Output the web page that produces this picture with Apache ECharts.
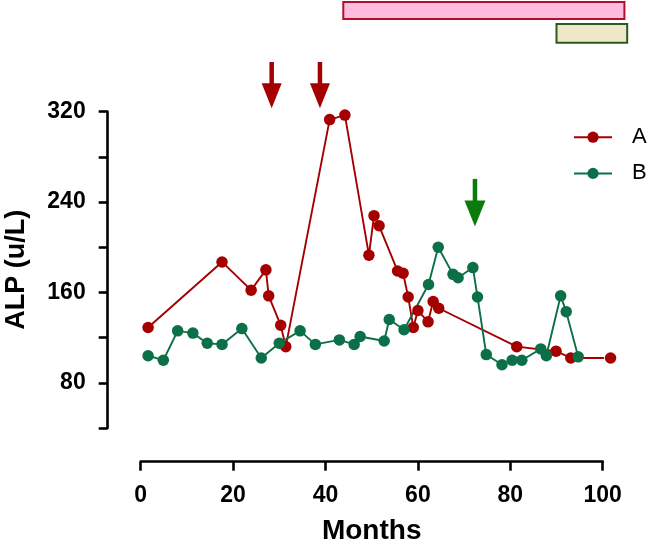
<!DOCTYPE html>
<html>
<head>
<meta charset="utf-8">
<script src="https://cdn.jsdelivr.net/npm/echarts@6/dist/echarts.min.js"></script>
<style>
html,body{margin:0;padding:0;background:#fff;}
#main{width:656px;height:543px;}
</style>
</head>
<body>
<div id="main"></div>
<script>
// ---- data ----
var seriesNames = ['A', 'B'];
var redX = [1.6, 17.6, 23.9, 27.1, 27.7, 30.3, 31.4, 40.9, 44.2, 49.4, 50.5, 51.6, 55.6, 56.8, 57.9, 59.0, 60.0, 62.2, 63.3, 64.5, 81.4, 89.9, 93.1, 101.7];
var redY = [129, 187, 162, 180, 157, 131, 112, 313, 317, 193, 228, 219, 179, 177, 156, 129, 144, 134, 152, 146, 112, 108, 102, 102];
var greenX = [1.6, 4.9, 8.0, 11.3, 14.4, 17.6, 21.9, 26.1, 30.0, 34.5, 37.8, 43.0, 46.2, 47.5, 52.7, 53.8, 57.0, 62.3, 64.4, 67.6, 68.7, 71.9, 72.9, 74.8, 78.2, 80.4, 82.5, 86.6, 87.8, 90.9, 92.1, 94.7];
var greenY = [104, 100, 126, 124, 115, 114, 128, 102, 115, 126, 114, 118, 114, 121, 117, 136, 127, 167, 200, 176, 173, 182, 156, 105, 96, 100, 100, 110, 104, 157, 143, 103];
var xTicks = [0, 20, 40, 60, 80, 100];
var yLabelTicks = [80, 160, 240, 320];
// annotation arrows: month, top value, tip value
var redArrowMonths = [28.35, 38.8];
var redArrowRange = [364, 323];
var greenArrowMonths = [72.35];
var greenArrowRange = [260.5, 218.3];
// treatment bars: [startMonth, endMonth, lowValue, highValue]
var pinkBar = [43.85, 104.7, 402, 417];
var beigeBar = [90.0, 105.3, 381, 397.6];

var RED = '#A50000', GREEN = '#0B7048';
var FONT = 'Liberation Sans, Arial, sans-serif';

function zip(xs, ys) { return xs.map(function (x, i) { return [x, ys[i]]; }); }

var chart = echarts.init(document.getElementById('main'), null, {renderer: 'canvas'});
var option = {
  animation: false,
  backgroundColor: '#fff',
  grid: {left: 140.7, right: 53.3, top: 111.7, bottom: 115, containLabel: false, outerBoundsMode: 'none'},
  legend: {
    orient: 'vertical', left: 573, top: 126.2, itemWidth: 38, itemHeight: 14, itemGap: 14.2, padding: 0,
    data: seriesNames,
    textStyle: {fontFamily: FONT, fontSize: 22, color: '#000', padding: [0, 0, 0, 15]}
  },
  xAxis: {
    type: 'value', min: 0, max: 100, interval: 20, offset: 33.7,
    name: 'Months', nameLocation: 'middle', nameGap: 56,
    nameTextStyle: {fontFamily: FONT, fontSize: 28, fontWeight: 'bold', color: '#000'},
    axisLine: {show: true, onZero: false, lineStyle: {color: '#000', width: 2.6}},
    axisTick: {show: true, length: 9, lineStyle: {color: '#000', width: 2.6}},
    axisLabel: {fontFamily: FONT, fontSize: 23, fontWeight: 'bold', color: '#000', margin: 22,
      formatter: function (v) { return xTicks.indexOf(v) >= 0 ? String(v) : ''; }},
    splitLine: {show: false}
  },
  yAxis: {
    type: 'value', min: 40, max: 320, interval: 40, offset: 33,
    name: 'ALP (u/L)', nameLocation: 'middle', nameGap: 78, nameRotate: 90,
    nameTextStyle: {fontFamily: FONT, fontSize: 27, fontWeight: 'bold', color: '#000'},
    axisLine: {show: true, onZero: false, lineStyle: {color: '#000', width: 2.6}},
    axisTick: {show: true, length: 9, lineStyle: {color: '#000', width: 2.6}},
    axisLabel: {fontFamily: FONT, fontSize: 23, fontWeight: 'bold', color: '#000', margin: 22,
      formatter: function (v) { return yLabelTicks.indexOf(v) >= 0 ? String(v) : ''; }},
    splitLine: {show: false}
  },
  series: [
    {name: seriesNames[0], type: 'line', data: zip(redX, redY), clip: false,
     symbol: 'circle', symbolSize: 11.5, color: RED,
     lineStyle: {color: RED, width: 1.9}, itemStyle: {color: RED}},
    {name: seriesNames[1], type: 'line', data: zip(greenX, greenY), clip: false,
     symbol: 'circle', symbolSize: 11.5, color: GREEN,
     lineStyle: {color: GREEN, width: 1.9}, itemStyle: {color: GREEN}}
  ]
};
chart.setOption(option);

function px(x, y) { return chart.convertToPixel({gridIndex: 0}, [x, y]); }
function arrow(month, range, color, headLen, headW, shaftW) {
  var top = px(month, range[0]), tip = px(month, range[1]);
  var cx = tip[0], hy = tip[1] - headLen;
  return [
    {type: 'rect', shape: {x: cx - shaftW / 2, y: top[1], width: shaftW, height: hy - top[1] + 1},
     style: {fill: color}, z: 10},
    {type: 'polygon', shape: {points: [[cx - headW / 2, hy], [cx + headW / 2, hy], [cx, tip[1]]]},
     style: {fill: color}, z: 10}
  ];
}
function bar(b, fill, stroke) {
  var p1 = px(b[0], b[3]), p2 = px(b[1], b[2]);
  return {type: 'rect', shape: {x: p1[0], y: p1[1], width: p2[0] - p1[0], height: p2[1] - p1[1]},
    style: {fill: fill, stroke: stroke, lineWidth: 2}, z: 10};
}
var g = [];
redArrowMonths.forEach(function (m) { g = g.concat(arrow(m, redArrowRange, '#A50000', 25, 20, 4.5)); });
greenArrowMonths.forEach(function (m) { g = g.concat(arrow(m, greenArrowRange, '#0B7B0B', 26, 21, 4.5)); });
g.push(bar(pinkBar, '#FFBBDD', '#B0102A'));
g.push(bar(beigeBar, '#EEE8C8', '#2E5A20'));
chart.setOption({graphic: g});
</script>
</body>
</html>
